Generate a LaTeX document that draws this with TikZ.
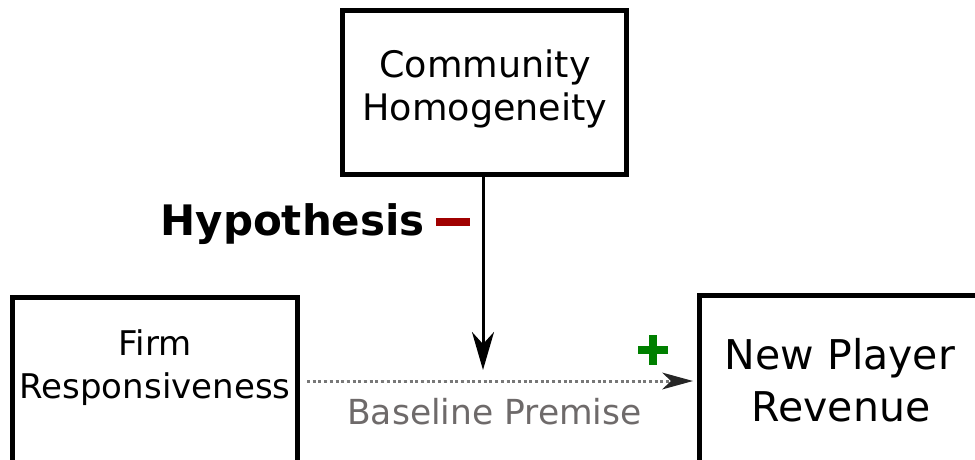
\documentclass[tikz,border=0pt]{standalone}
\usepackage{fontspec}
\setmainfont{DejaVu Sans}
\usetikzlibrary{arrows.meta,calc}
\definecolor{minusred}{RGB}{160,0,0}
\definecolor{plusgreen}{RGB}{0,128,0}
\definecolor{premisegray}{RGB}{110,106,106}
\definecolor{dotgray}{RGB}{120,120,120}
\begin{document}
\begin{tikzpicture}[x=1pt,y=-1pt,
  frame/.style={draw=black,line width=5pt,inner sep=0pt,outer sep=0pt},
  boxline/.style={anchor=base,inner sep=0pt,font=\fontsize{#1}{#1}\selectfont},
  hypolink/.style={draw=black,line width=3pt,-{Stealth[length=38pt,width=22pt,inset=12pt]}},
  premiselink/.style={draw=dotgray,line width=3pt,dash pattern=on 3pt off 2.7pt,
    -{Stealth[length=31pt,width=17pt,inset=9pt,color=black!85,line width=0pt]}}]
\useasboundingbox (0,0) rectangle (975,459);
\clip (0,0) rectangle (975,459);

% the three construct boxes
\node[frame,minimum width=284pt,minimum height=164pt] (ch) at (484,92.5) {};
\node[frame,minimum width=285pt,minimum height=223pt] (firmbox) at (155,408.5) {};
\node[frame,minimum width=300pt,minimum height=224.5pt] (nplbox) at (849.5,407.75) {};

% box captions, one node per line
\node[boxline=36.5] (chA) at (485,77) {Community};
\node[boxline=36.5] (chB) at (485,120) {Homogeneity};
\node[boxline=34] (firmA) at (155,355) {Firm};
\node[boxline=34] (firmB) at (155,398) {Responsiveness};
\node[boxline=41] (nplA) at (840,369) {New Player};
\node[boxline=41] (nplB) at (841,421) {Revenue};

% baseline premise: firm responsiveness -> new player revenue
\coordinate (pstart) at ($(firmbox.north east)+(9.5,84)$);
\coordinate (pend) at ($(nplbox.north west)+(-6.5,85.5)$);
\draw[premiselink] (pstart) -- (pend);
\node[boxline=34.5,text=premisegray] (prem) at (494.5,424) {Baseline Premise};

% moderating hypothesis arrow
\coordinate (hub) at (483,370);
\draw[hypolink] (ch.south -| hub) -- (hub);
\node[anchor=base east,inner sep=0pt,font=\bfseries\fontsize{42}{42}\selectfont] (hyp) at (425,235) {Hypothesis};

% sign markers
\node[fill=minusred,minimum width=34pt,minimum height=8pt,inner sep=0pt] (minus) at (453,222) {};
\coordinate (plus) at (653,350);
\fill[plusgreen] ($(plus)+(-15,-4)$) rectangle ($(plus)+(15,4)$);
\fill[plusgreen] ($(plus)+(-4,-15)$) rectangle ($(plus)+(4,15)$);
\end{tikzpicture}
\end{document}
